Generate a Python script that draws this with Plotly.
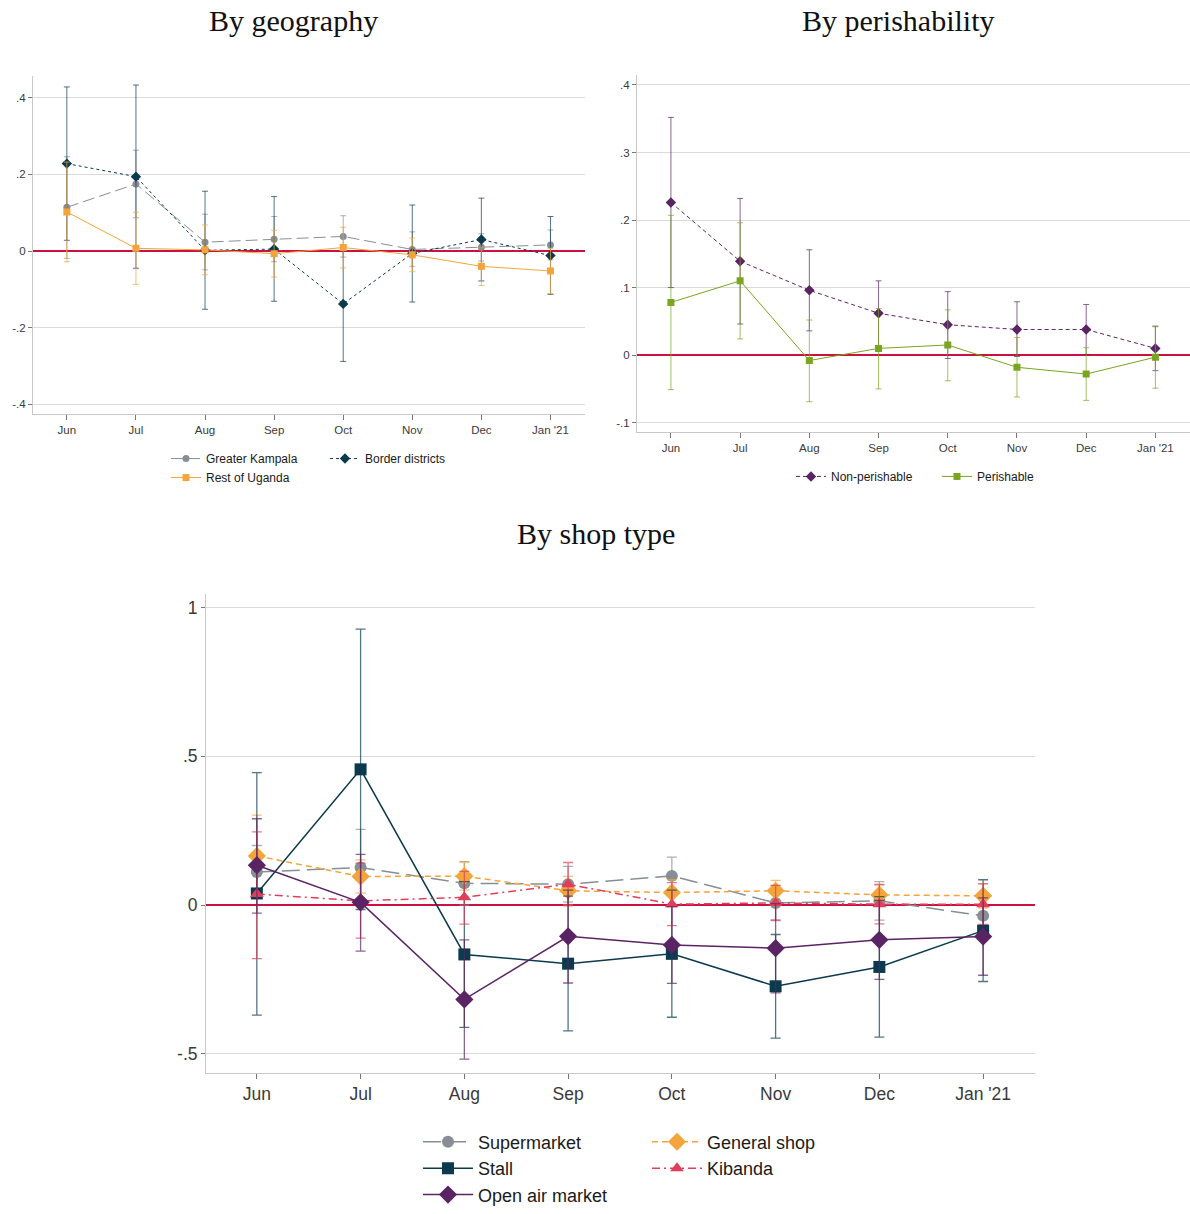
import plotly.graph_objects as go

# ---------------- data ----------------
months = ["Jun", "Jul", "Aug", "Sep", "Oct", "Nov", "Dec", "Jan '21"]

# By geography
kampala = [0.114, 0.175, 0.023, 0.031, 0.038, 0.004, 0.010, 0.016]
kampala_lo = [-0.019, 0.087, -0.049, -0.028, -0.016, -0.040, -0.026, -0.023]
kampala_hi = [0.246, 0.263, 0.096, 0.090, 0.092, 0.050, 0.045, 0.055]

border = [0.228, 0.194, 0.002, 0.005, -0.138, -0.006, 0.030, -0.012]
border_lo = [0.028, -0.045, -0.152, -0.131, -0.288, -0.133, -0.078, -0.113]
border_hi = [0.428, 0.433, 0.156, 0.142, 0.012, 0.120, 0.138, 0.090]

rest = [0.102, 0.007, 0.003, -0.007, 0.009, -0.010, -0.040, -0.052]
rest_lo = [-0.028, -0.087, -0.062, -0.068, -0.044, -0.054, -0.090, -0.111]
rest_hi = [0.232, 0.101, 0.068, 0.054, 0.062, 0.034, 0.010, 0.007]

# By perishability
nonper = [0.226, 0.139, 0.096, 0.062, 0.045, 0.038, 0.038, 0.010]
nonper_lo = [0.100, 0.046, 0.036, 0.014, -0.005, -0.002, 0.001, -0.023]
nonper_hi = [0.352, 0.232, 0.156, 0.110, 0.094, 0.079, 0.075, 0.043]

per = [0.078, 0.110, -0.008, 0.010, 0.015, -0.018, -0.028, -0.003]
per_lo = [-0.051, 0.024, -0.069, -0.050, -0.038, -0.062, -0.067, -0.049]
per_hi = [0.207, 0.196, 0.052, 0.069, 0.067, 0.026, 0.011, 0.042]

# By shop type
supermarket = [0.111, 0.126, 0.073, 0.070, 0.098, 0.007, 0.014, -0.036]
supermarket_lo = [0.022, -0.002, 0.000, 0.010, 0.035, -0.050, -0.051, -0.100]
supermarket_hi = [0.200, 0.254, 0.146, 0.130, 0.161, 0.065, 0.079, 0.028]

general = [0.165, 0.096, 0.097, 0.048, 0.042, 0.048, 0.034, 0.031]
general_lo = [0.028, 0.040, 0.050, 0.000, 0.000, 0.013, 0.000, -0.010]
general_hi = [0.302, 0.152, 0.144, 0.096, 0.085, 0.083, 0.068, 0.072]

stall = [0.039, 0.456, -0.166, -0.197, -0.164, -0.273, -0.208, -0.086]
stall_lo = [-0.370, -0.015, -0.411, -0.423, -0.377, -0.447, -0.444, -0.257]
stall_hi = [0.445, 0.927, 0.079, 0.030, 0.050, -0.099, 0.028, 0.085]

kibanda = [0.037, 0.014, 0.026, 0.070, 0.003, 0.007, 0.003, 0.003]
kibanda_lo = [-0.180, -0.111, -0.064, -0.003, -0.069, -0.052, -0.063, -0.065]
kibanda_hi = [0.246, 0.141, 0.113, 0.143, 0.075, 0.066, 0.069, 0.071]

openair = [0.134, 0.009, -0.317, -0.105, -0.134, -0.145, -0.117, -0.106]
openair_lo = [-0.027, -0.155, -0.518, -0.262, -0.263, -0.295, -0.250, -0.236]
openair_hi = [0.290, 0.170, -0.117, 0.050, -0.005, 0.005, 0.016, 0.024]

# tick labels
geo_tickvals = [0.4, 0.2, 0, -0.2, -0.4]
geo_ticktext = [".4", ".2", "0", "-.2", "-.4"]
per_tickvals = [0.4, 0.3, 0.2, 0.1, 0, -0.1]
per_ticktext = [".4", ".3", ".2", ".1", "0", "-.1"]
shop_tickvals = [1, 0.5, 0, -0.5]
shop_ticktext = ["1", ".5", "0", "-.5"]

# ---------------- helpers ----------------
W, H = 1190, 1214


def px(p):
    return p / W


def py(p):
    return 1 - p / H


def rgba(hexc, a):
    hexc = hexc.lstrip("#")
    r, g, b = int(hexc[0:2], 16), int(hexc[2:4], 16), int(hexc[4:6], 16)
    return f"rgba({r},{g},{b},{a})"


def series(name, y, lo, hi, color, dash, symbol, msize, lw, xa, ya, legend,
           capw, ethick):
    return go.Scatter(
        x=months, y=y, name=name, mode="lines+markers",
        xaxis=xa, yaxis=ya, legend=legend,
        line=dict(color=color, width=lw, dash=dash),
        marker=dict(symbol=symbol, size=msize, color=color,
                    line=dict(width=0)),
        error_y=dict(type="data", symmetric=False,
                     array=[h - v for h, v in zip(hi, y)],
                     arrayminus=[v - l for v, l in zip(y, lo)],
                     color=rgba(color, 0.7), thickness=ethick, width=capw),
    )


GRAY = "#888e95"
NAVY = "#0b3a4e"
ORANGE = "#f3a43b"
PURPLE = "#5a2363"
GREEN = "#79a521"
RED = "#df3f5a"
ZERO = "#cc1040"

fig = go.Figure()

# top-left
fig.add_trace(series("Greater Kampala", kampala, kampala_lo, kampala_hi, GRAY,
                     "12px,5px", "circle", 7, 1, "x", "y", "legend", 3, 1))
fig.add_trace(series("Border districts", border, border_lo, border_hi, NAVY,
                     "3px,3px", "diamond", 8, 1, "x", "y", "legend2", 3, 1))
fig.add_trace(series("Rest of Uganda", rest, rest_lo, rest_hi, ORANGE,
                     "solid", "square", 7, 1, "x", "y", "legend", 3, 1))

# top-right
fig.add_trace(series("Non-perishable", nonper, nonper_lo, nonper_hi, PURPLE,
                     "4px,3px", "diamond", 8, 1, "x2", "y2", "legend3", 3, 1))
fig.add_trace(series("Perishable", per, per_lo, per_hi, GREEN,
                     "solid", "square", 7, 1, "x2", "y2", "legend4", 3, 1))

# bottom
fig.add_trace(series("Supermarket", supermarket, supermarket_lo, supermarket_hi,
                     GRAY, "18px,7px", "circle", 12, 1.5, "x3", "y3", "legend5", 5, 1.3))
fig.add_trace(series("General shop", general, general_lo, general_hi, ORANGE,
                     "6px,4px", "diamond", 14, 1.5, "x3", "y3", "legend6", 5, 1.3))
fig.add_trace(series("Stall", stall, stall_lo, stall_hi, NAVY,
                     "solid", "square", 12, 1.5, "x3", "y3", "legend5", 5, 1.3))
fig.add_trace(series("Kibanda", kibanda, kibanda_lo, kibanda_hi, RED,
                     "8px,4px,2px,4px", "triangle-up", 12, 1.5, "x3", "y3", "legend6", 5, 1.3))
fig.add_trace(series("Open air market", openair, openair_lo, openair_hi, PURPLE,
                     "solid", "diamond", 14, 1.5, "x3", "y3", "legend5", 5, 1.3))

FONT = "Liberation Sans, Arial, sans-serif"
GRID = "#dadada"
AXL = "#c9c9c9"


def xaxis(domain, anchor, fsize):
    return dict(domain=domain, anchor=anchor, type="category",
                range=[-0.49, 7.5], showgrid=False, zeroline=False,
                showline=True, linecolor=AXL, linewidth=1,
                ticks="outside", ticklen=5, tickcolor="#777", tickwidth=1,
                tickfont=dict(family=FONT, size=fsize, color="#3a3a3a"),
                fixedrange=True)


def yaxis(domain, anchor, rng, tv, tt, fsize):
    return dict(domain=domain, anchor=anchor, range=rng,
                tickvals=tv, ticktext=tt, showgrid=True, gridcolor=GRID,
                gridwidth=1, zeroline=True, zerolinecolor=ZERO,
                zerolinewidth=2, showline=True, linecolor=AXL, linewidth=1,
                ticks="outside", ticklen=4, tickcolor="#777", tickwidth=1,
                tickfont=dict(family=FONT, size=fsize, color="#3a3a3a"),
                fixedrange=True)


def legend(xp, ytop, fsize, iw=30):
    return dict(x=px(xp), y=py(ytop), xanchor="left", yanchor="top",
                orientation="v", bgcolor="rgba(0,0,0,0)", borderwidth=0,
                font=dict(family=FONT, size=fsize, color="#1a1a1a"),
                itemwidth=iw, tracegroupgap=0)


fig.update_layout(
    width=W, height=H, autosize=False,
    margin=dict(l=0, r=0, t=0, b=0),
    paper_bgcolor="white", plot_bgcolor="white",
    showlegend=True,
    xaxis=xaxis([px(33), px(585)], "y", 11.5),
    yaxis=yaxis([py(416.7), py(76.7)], "x", [-0.425, 0.456],
                geo_tickvals, geo_ticktext, 11.5),
    xaxis2=xaxis([px(637), 1.0], "y2", 11.5),
    yaxis2=yaxis([py(435), py(76)], "x2", [-0.114, 0.414],
                 per_tickvals, per_ticktext, 11.5),
    xaxis3=xaxis([px(206), px(1035)], "y3", 17.5),
    yaxis3=yaxis([py(1080), py(598)], "x3", [-0.564, 1.045],
                 shop_tickvals, shop_ticktext, 17.5),
    legend=legend(166, 447, 12),
    legend2=legend(325, 447, 12),
    legend3=legend(791, 465, 12),
    legend4=legend(937, 465, 12),
    legend5=legend(418, 1131, 18, 50),
    legend6=legend(647, 1131, 18, 50),
)

TFONT = dict(family="Liberation Serif, Times New Roman, serif", size=30,
             color="#111")
for txt, xc, yc in [("By geography", 293, 21), ("By perishability", 898, 21),
                    ("By shop type", 596, 537)]:
    fig.add_annotation(text=txt, x=px(xc), y=py(yc), xref="paper",
                       yref="paper", xanchor="center", yanchor="middle",
                       showarrow=False, font=TFONT, borderpad=0)

fig.write_html(
    "out.html",
    config={"displayModeBar": False},
    post_script="document.body.style.margin='0';",
)
